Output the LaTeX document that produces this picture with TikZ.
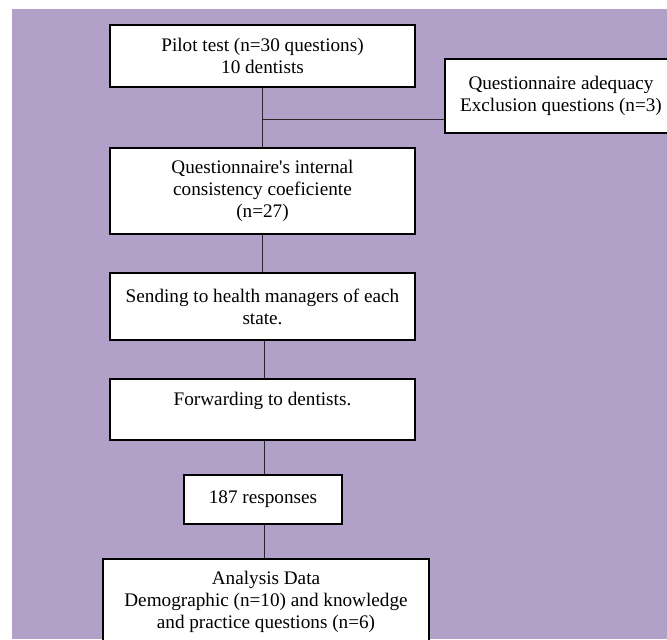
\documentclass[tikz,border=0pt]{standalone}
\usepackage{fontspec}
\setmainfont{Liberation Serif}
\newfontfamily\plainapos{Liberation Serif}
\definecolor{bgpurple}{RGB}{177,160,199}
\begin{document}
\begin{tikzpicture}[x=0.75pt,y=-0.75pt,
  box/.style={draw=black, line width=1.1pt, fill=white, align=center, inner sep=0pt,
    font=\fontsize{14.4}{16.5}\selectfont},
  conn/.style={draw=black!85, line width=0.7pt}]
\useasboundingbox (0,0) rectangle (667,639);
\clip (0,0) rectangle (667,639);
\fill[white] (0,0) rectangle (667,639);
\fill[bgpurple] (12,9) rectangle (667,639);

\node[box, minimum width=228.75pt, minimum height=46.5pt] (b1) at (262.5,56)
  {Pilot test (n=30 questions)\\10 dentists};
\node[box, minimum width=174pt, minimum height=55.5pt] (b2) at (561,96)
  {Questionnaire adequacy\\Exclusion questions (n=3)};
\node[box, minimum width=228.75pt, minimum height=64.5pt] (b3) at (262.5,191)
  {Questionnaire{\plainapos'}s internal\\consistency coeficiente\\(n=27)};
\node[box, minimum width=228.75pt, minimum height=50.25pt] (b4) at (262.5,306.5)
  {Sending to health managers of each\\state.};
\node[box, minimum width=228.75pt, minimum height=45.75pt] (b5) at (262.5,409.5)
  {Forwarding to dentists.\\~};
\node[box, minimum width=118.5pt, minimum height=36.75pt] (b6) at (263,499.5)
  {187 responses};
\node[box, minimum width=244.5pt, minimum height=64.5pt] (b7) at (266,602)
  {Analysis Data\\Demographic (n=10) and knowledge\\and practice questions (n=6)};

\coordinate (j) at (262.5,119);
\draw[conn] (b1.south) -- (b1.south |- b3.north);
\draw[conn] (j) -- (j -| b2.west);
\coordinate (c4) at (264,340);
\draw[conn] (b3.south) -- (b3.south |- b4.north);
\draw[conn] (b4.south -| c4) -- (c4 |- b5.north);
\draw[conn] (b5.south -| c4) -- (c4 |- b6.north);
\draw[conn] (b6.south -| c4) -- (c4 |- b7.north);
\end{tikzpicture}
\end{document}
